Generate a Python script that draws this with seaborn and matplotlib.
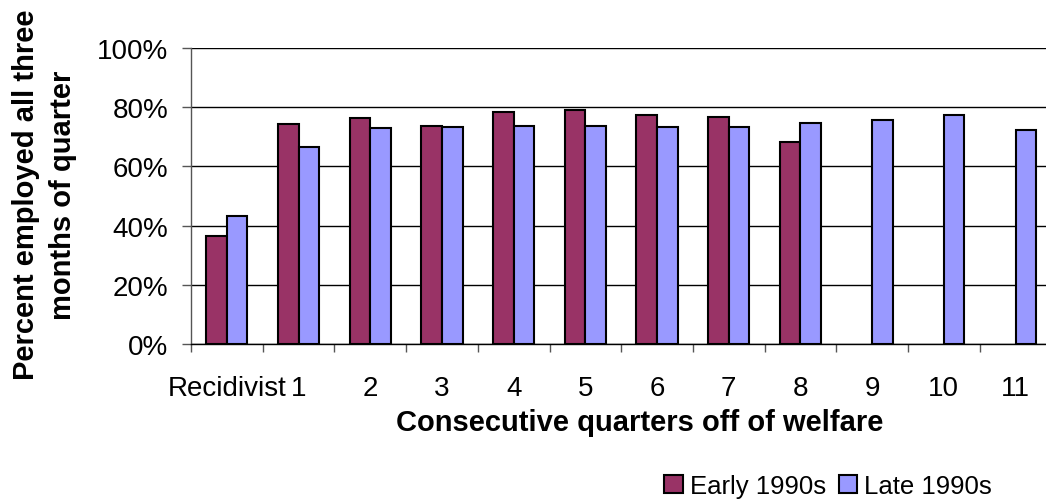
import matplotlib
matplotlib.use("Agg")
import matplotlib.pyplot as plt
import matplotlib.patches as mpatches
from matplotlib.ticker import FixedLocator, PercentFormatter
import numpy as np
import pandas as pd
import seaborn as sns

# Share employed in all three months of the quarter, by quarters off welfare
categories = ["Recidivist", "1", "2", "3", "4", "5", "6", "7", "8", "9", "10", "11"]
early_1990s = [0.366, 0.742, 0.765, 0.738, 0.783, 0.791, 0.772, 0.768, 0.681,
               np.nan, np.nan, np.nan]
late_1990s = [0.431, 0.664, 0.730, 0.734, 0.738, 0.738, 0.734, 0.734, 0.747,
              0.757, 0.772, 0.723]
series_names = ["Early 1990s", "Late 1990s"]
y_ticks = [0.0, 0.2, 0.4, 0.6, 0.8, 1.0]

EARLY_COLOR = "#993366"
LATE_COLOR = "#9999FF"

df = pd.DataFrame({
    "quarter": categories * 2,
    "share": early_1990s + late_1990s,
    "period": [series_names[0]] * len(categories) + [series_names[1]] * len(categories),
})

sns.set_style("white")
plt.rcParams["font.family"] = ["Liberation Sans", "DejaVu Sans"]
plt.rcParams["text.color"] = "black"

W, H = 1046, 502
fig = plt.figure(figsize=(W / 100, H / 100), dpi=100)
ax = fig.add_axes([191 / W, 1 - 345 / H, 860.4 / W, 296 / H])

sns.barplot(
    data=df, x="quarter", y="share", hue="period",
    order=categories, hue_order=series_names,
    palette=[EARLY_COLOR, LATE_COLOR],
    width=0.575, edgecolor="black", linewidth=1.5,
    saturation=1, legend=False, ax=ax, zorder=3,
)

ax.set_xlim(-0.5, len(categories) - 0.5)
ax.set_ylim(0, 1.0)
ax.set_yticks(y_ticks)
ax.yaxis.set_major_formatter(PercentFormatter(1.0, decimals=0))
ax.grid(axis="y", color="black", linewidth=1.0, zorder=0)
ax.set_axisbelow(True)

for side in ["top", "right"]:
    ax.spines[side].set_visible(False)
ax.spines["left"].set_color("#555555")
ax.spines["left"].set_linewidth(1.0)
ax.spines["bottom"].set_color("black")
ax.spines["bottom"].set_linewidth(1.0)

# category labels centered, tick marks between categories
ax.set_xticks(range(len(categories)))
ax.set_xticklabels(categories)
ax.xaxis.set_minor_locator(FixedLocator(np.arange(-0.5, len(categories), 1.0)))
ax.tick_params(axis="x", which="major", length=0, pad=22, labelsize=20, labelcolor="black")
ax.tick_params(axis="x", which="minor", bottom=True, length=6, width=1.0, color="#555555", direction="out")
ax.tick_params(axis="y", left=True, length=6.5, width=1.0, color="#555555", direction="out",
               pad=10, labelsize=20, labelcolor="black")

ax.set_xlabel("")
ax.set_ylabel("")

fig.text(640 / W, 1 - 423 / H, "Consecutive quarters off of welfare",
         ha="center", va="center", fontsize=21, fontweight="bold", color="black")
fig.text(44.5 / W, 1 - 195 / H, "Percent employed all three\nmonths of quarter",
         ha="center", va="center", rotation=90, fontsize=21, fontweight="bold",
         linespacing=1.4, color="black")

handles = [
    mpatches.Patch(facecolor=EARLY_COLOR, edgecolor="black", linewidth=1.5, label=series_names[0]),
    mpatches.Patch(facecolor=LATE_COLOR, edgecolor="black", linewidth=1.5, label=series_names[1]),
]
fig.legend(handles=handles, loc="center right",
           bbox_to_anchor=(992 / W, 1 - 487 / H), ncol=2, frameon=False,
           fontsize=18.5, handlelength=0.72, handleheight=0.72, handletextpad=0.27,
           columnspacing=0.5, borderpad=0, borderaxespad=0, labelcolor="black")

fig.savefig("out.png", dpi=100)
